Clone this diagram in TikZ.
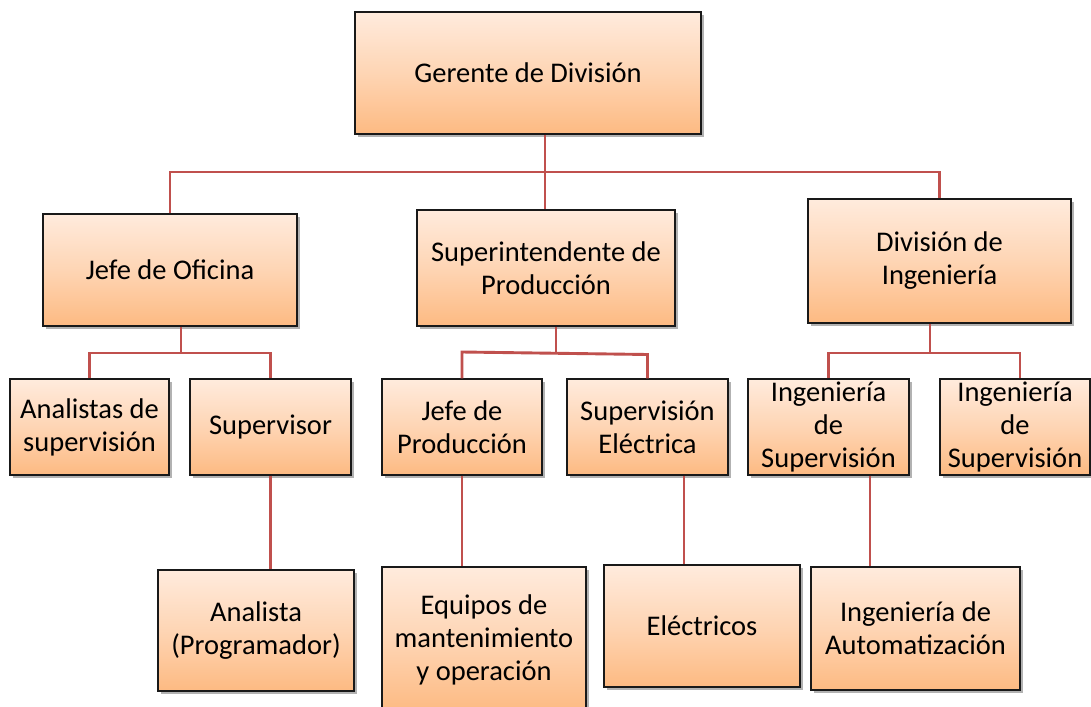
\documentclass[tikz,border=0pt]{standalone}
\usepackage{fontspec}
\setmainfont{Carlito}
\usetikzlibrary{shadows}
\definecolor{boxtop}{HTML}{FFEBDD}
\definecolor{boxbot}{HTML}{FDBA82}
\definecolor{linkred}{HTML}{C0504D}
\tikzset{
  orgbox/.style={rectangle, draw=black!90, line width=1.3pt,
    top color=boxtop, bottom color=boxbot, middle color=boxtop!55!boxbot,
    align=center, inner sep=0pt,
    font=\fontsize{28.5}{33}\selectfont,
    drop shadow={shadow xshift=2.5pt, shadow yshift=-3pt, opacity=0.3, fill=black}},
  link/.style={draw=linkred, line width=2.9pt}
}
\begin{document}
\begin{tikzpicture}[x=1pt,y=-1pt]
\useasboundingbox (0,0) rectangle (1091,706);
\fill[white] (0,0) rectangle (1091,706);
% level 0
\node[orgbox, minimum width=346, minimum height=122] (ger) at (528,73) {Gerente de División};
% level 1
\node[orgbox, minimum width=254, minimum height=112] (jefe) at (170,270) {Jefe de Oficina};
\node[orgbox, minimum width=258, minimum height=116] (sup) at (546,268) {Superintendente de\\Producción};
\node[orgbox, minimum width=263, minimum height=124] (div) at (939.5,261) {División de\\Ingeniería};
% level 2
\node[orgbox, minimum width=159, minimum height=96] (ana) at (89.5,427) {Analistas de\\supervisión};
\node[orgbox, minimum width=161, minimum height=96] (supv) at (270.5,427) {Supervisor};
\node[orgbox, minimum width=160, minimum height=96] (jp) at (462,427) {Jefe de\\Producción};
\node[orgbox, minimum width=161, minimum height=96] (se) at (647.5,427) {Supervisión\\Eléctrica};
\node[orgbox, minimum width=161, minimum height=96] (is1) at (828.5,427) {Ingeniería\\de\\Supervisión};
\node[orgbox, minimum width=150, minimum height=96] (is2) at (1015,427) {Ingeniería\\de\\Supervisión};
% level 3
\node[orgbox, minimum width=196, minimum height=121] (prog) at (256,630.5) {Analista\\(Programador)};
\node[orgbox, minimum width=204, minimum height=145] (eq) at (484,639.5) {Equipos de\\mantenimiento\\y operación};
\node[orgbox, minimum width=196, minimum height=122] (elec) at (702,626) {Eléctricos};
\node[orgbox, minimum width=209, minimum height=123] (aut) at (915.5,628.5) {Ingeniería de\\Automatización};
% connectors level 0-1
\coordinate (b0) at (545,172);
\draw[link] ([xshift=17pt]ger.south) -- (b0);
\draw[link] (jefe.north) -- (jefe.north |- b0) -- (div.north |- b0) -- (div.north);
\draw[link] (b0) -- (sup.north -| b0);
% connectors level 1-2
\coordinate (b1) at (181,353);
\draw[link] ([xshift=11pt]jefe.south) -- (b1);
\draw[link] (ana.north) -- (ana.north |- b1) -- (supv.north |- b1) -- (supv.north);
\coordinate (b2) at (556,353);
\draw[link] ([xshift=10pt]sup.south) -- (b2);
\draw[link] (jp.north) -- ([yshift=1pt]jp.north |- b2) -- ([yshift=-1.5pt]se.north |- b2) -- (se.north);
\coordinate (b3) at (930,353);
\draw[link] ([xshift=-9.5pt]div.south) -- (b3);
\draw[link] (is1.north) -- (is1.north |- b3) -- ([xshift=5pt]is2.north |- b3) -- ([xshift=5pt]is2.north);
% connectors level 2-3
\draw[link] (supv.south) -- (supv.south |- prog.north);
\draw[link] (jp.south) -- (jp.south |- eq.north);
\draw[link] ([xshift=36.5pt]se.south) -- ([xshift=36.5pt]se.south |- elec.north);
\draw[link] ([xshift=41.5pt]is1.south) -- ([xshift=41.5pt]is1.south |- aut.north);
\end{tikzpicture}
\end{document}
